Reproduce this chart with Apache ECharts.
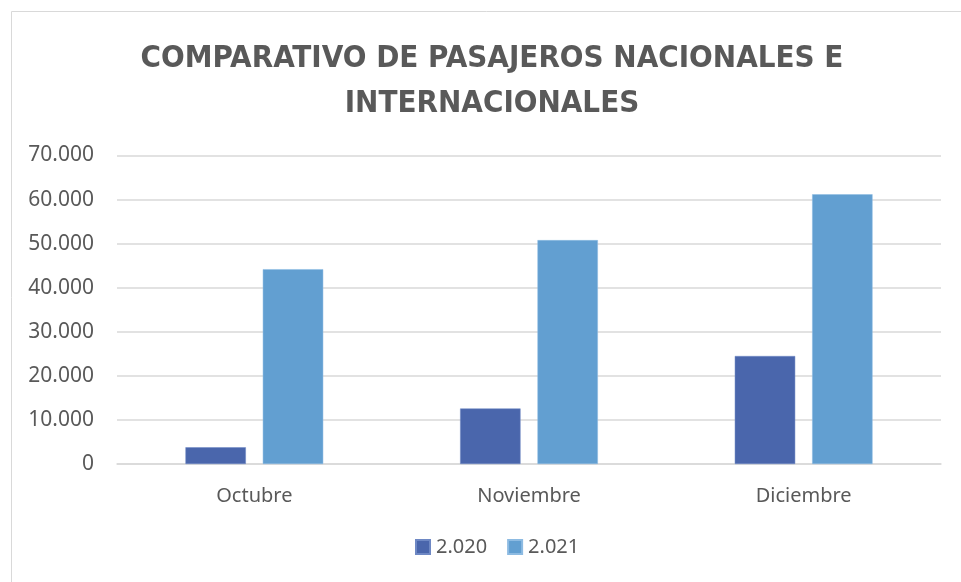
<!DOCTYPE html>
<html><head><meta charset="utf-8">
<script src="https://cdn.jsdelivr.net/npm/echarts@6/dist/echarts.min.js"></script>
<style>html,body{margin:0;padding:0;background:#fff}#c{width:961px;height:582px}</style>
</head><body><div id="c"></div>
<script>
const categories = ['Octubre', 'Noviembre', 'Diciembre'];
const seriesNames = ['2.020', '2.021'];
const values2020 = [3800, 12600, 24500];
const values2021 = [44200, 50800, 61200];
const titleText = 'COMPARATIVO DE PASAJEROS NACIONALES E\nINTERNACIONALES';

const fmt = v => String(v).replace(/\B(?=(\d{3})+(?!\d))/g, '.');
const chart = echarts.init(document.getElementById('c'));
chart.setOption({
  animation: false,
  title: {
    text: titleText, left: 487, textAlign: 'center', top: 31,
    textStyle: { fontFamily: '"DejaVu Sans Condensed", Roboto', fontWeight: 'bold', fontSize: 31, color: '#595959', lineHeight: 45 }
  },
  graphic: [{ type: 'rect', shape: { x: 11.5, y: 11.5, width: 960, height: 580 }, style: { fill: 'none', stroke: '#d9d9d9', lineWidth: 1 }, z: -1 }],
  grid: { left: 117, right: 20, top: 155.5, bottom: 118 },
  legend: {
    data: seriesNames, bottom: 20, left: 410, itemWidth: 14, itemHeight: 14, itemGap: 20,
    icon: 'rect',
    textStyle: { fontFamily: 'Noto Sans', fontSize: 20, color: '#595959', padding: [0, 0, 0, 1] }
  },
  xAxis: {
    type: 'category', data: categories,
    axisLine: { lineStyle: { color: '#d9d9d9', width: 1.5 } }, axisTick: { show: false },
    axisLabel: { fontFamily: 'Noto Sans', fontSize: 20, color: '#595959', margin: 22 }
  },
  yAxis: {
    type: 'value', min: 0, max: 70000, interval: 10000,
    axisLine: { show: false }, axisTick: { show: false },
    splitLine: { lineStyle: { color: '#d9d9d9', width: 1.5 } },
    axisLabel: { fontFamily: 'Noto Sans', fontSize: 21, color: '#595959', margin: 23, formatter: fmt }
  },
  series: [
    { name: seriesNames[0], type: 'bar', data: values2020, barWidth: '22%', barGap: '28%',
      itemStyle: { color: '#4a66ac', borderColor: '#6e88c4', borderWidth: 0.5 } },
    { name: seriesNames[1], type: 'bar', data: values2021, barWidth: '22%', barGap: '28%',
      itemStyle: { color: '#629fd1', borderColor: '#8dbbe2', borderWidth: 0.5 } }
  ]
});
</script></body></html>
